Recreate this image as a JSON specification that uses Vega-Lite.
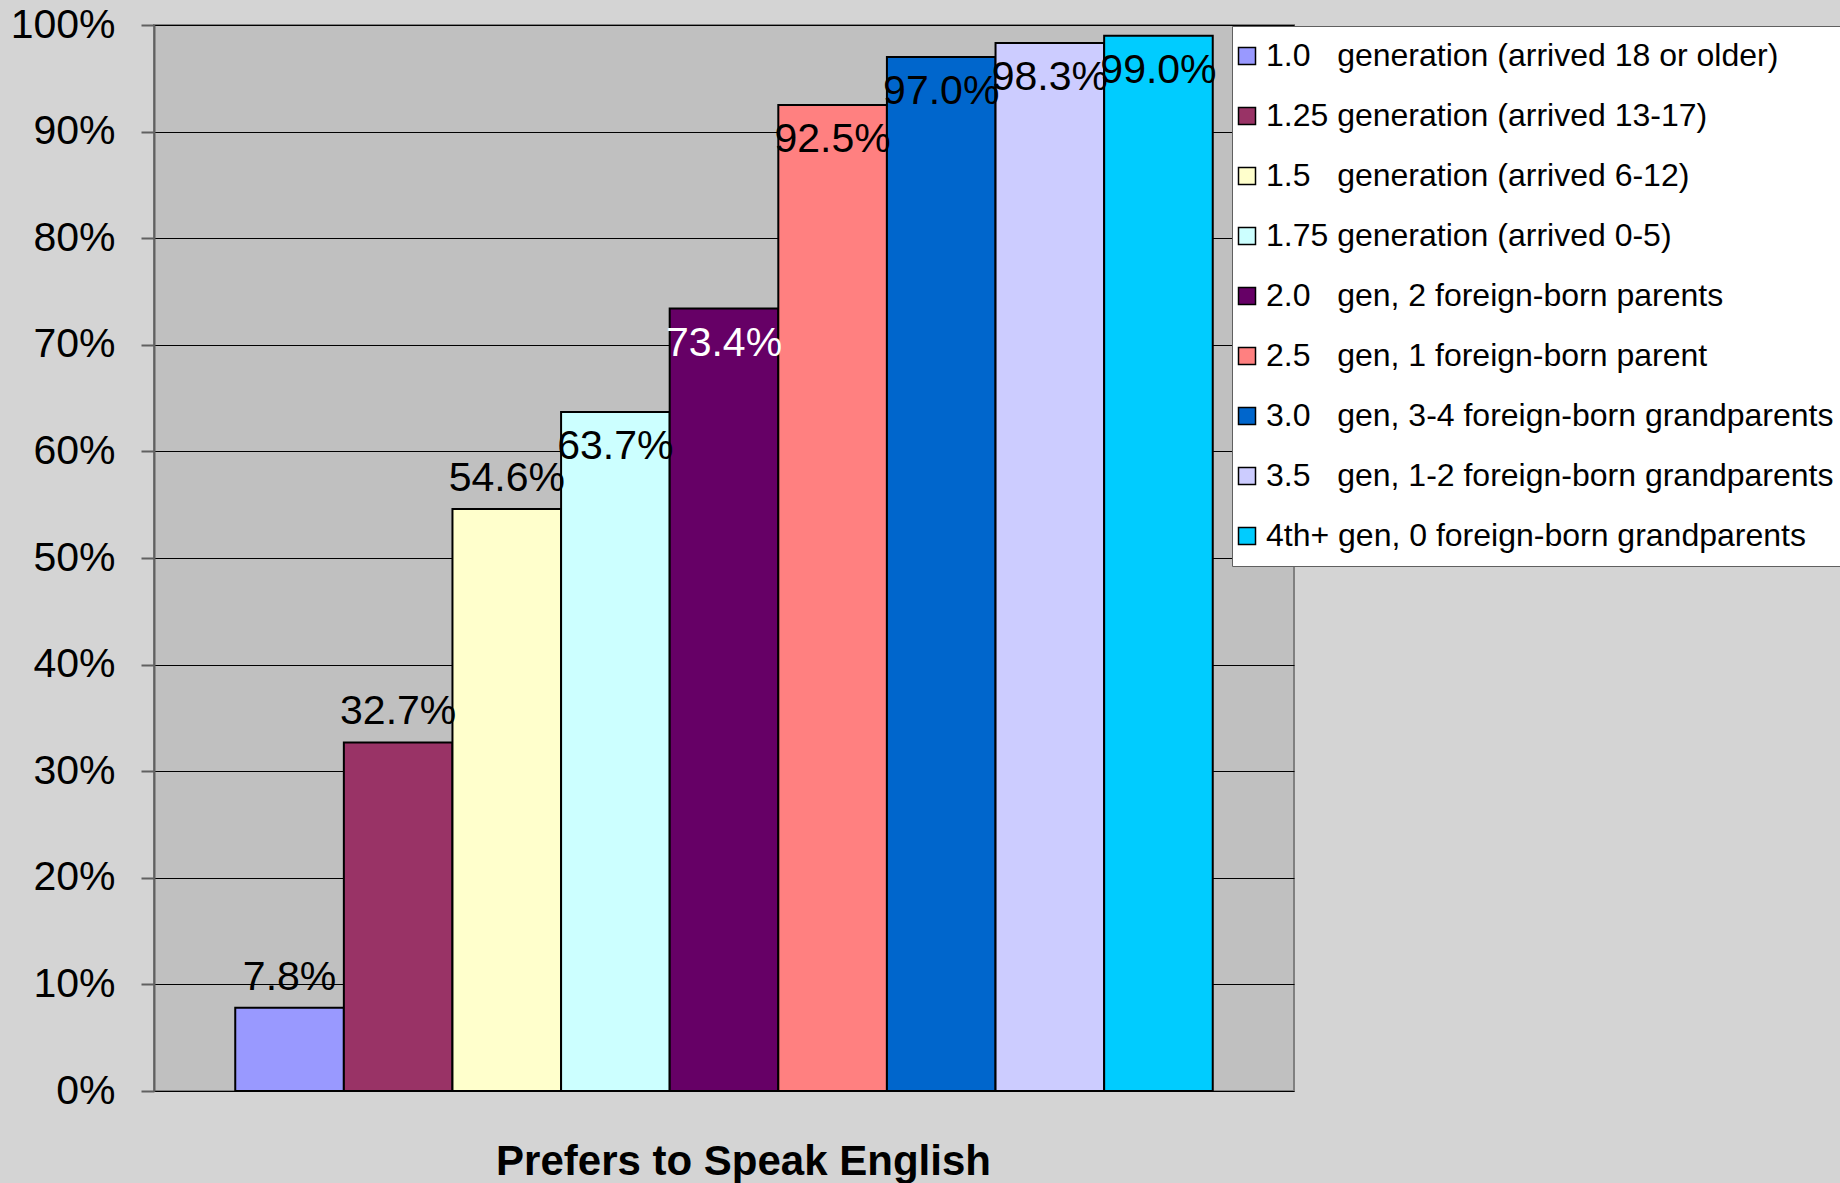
{
  "$schema": "https://vega.github.io/schema/vega-lite/v6.json",
  "autosize": "none",
  "width": 1140,
  "height": 1066,
  "padding": {"left": 154, "top": 25, "right": 546, "bottom": 92},
  "background": "#d4d4d4",
  "config": {
    "view": {"fill": "#C0C0C0", "stroke": "#808080", "strokeWidth": 2},
    "font": "Liberation Sans"
  },
  "data": {
    "values": [
      {"generation": "1.0\u00a0\u00a0\u00a0generation (arrived 18 or older)", "value": 0.078},
      {"generation": "1.25 generation (arrived 13-17)", "value": 0.327},
      {"generation": "1.5\u00a0\u00a0\u00a0generation (arrived 6-12)", "value": 0.546},
      {"generation": "1.75 generation (arrived 0-5)", "value": 0.637},
      {"generation": "2.0\u00a0\u00a0\u00a0gen, 2 foreign-born parents", "value": 0.734},
      {"generation": "2.5\u00a0\u00a0\u00a0gen, 1 foreign-born parent", "value": 0.925},
      {"generation": "3.0\u00a0\u00a0\u00a0gen, 3-4 foreign-born grandparents", "value": 0.970},
      {"generation": "3.5\u00a0\u00a0\u00a0gen, 1-2 foreign-born grandparents", "value": 0.983},
      {"generation": "4th+ gen, 0 foreign-born grandparents", "value": 0.990}
    ]
  },
  "encoding": {
    "x": {
      "field": "generation",
      "type": "nominal",
      "sort": null,
      "scale": {"paddingInner": 0, "paddingOuter": 0.748},
      "axis": {
        "labels": false,
        "ticks": false,
        "domain": false,
        "title": "Prefers to Speak English",
        "titleFont": "Liberation Sans",
        "titleFontSize": 42,
        "titleFontWeight": "bold",
        "titleColor": "#000000",
        "titleX": 589,
        "titleY": 50,
        "titleBaseline": "top",
        "titleAnchor": "middle",
        "titleAlign": "center"
      }
    },
    "y": {
      "field": "value",
      "type": "quantitative",
      "scale": {"domain": [0, 1], "nice": false},
      "axis": {
        "values": [0, 0.1, 0.2, 0.3, 0.4, 0.5, 0.6, 0.7, 0.8, 0.9, 1.0],
        "format": ".0%",
        "title": null,
        "labelFont": "Liberation Sans",
        "labelFontSize": 41,
        "labelColor": "#000000",
        "labelPadding": 26,
        "tickSize": 13,
        "tickColor": "#606060",
        "tickWidth": 2,
        "domainColor": "#606060",
        "domainWidth": 2,
        "grid": true,
        "gridColor": "#000000",
        "gridWidth": 1.2,
        "gridOpacity": 1
      }
    }
  },
  "layer": [
    {
      "mark": {"type": "bar", "stroke": "#000000", "strokeWidth": 2, "opacity": 1},
      "encoding": {
        "color": {
          "field": "generation",
          "type": "nominal",
          "sort": null,
          "scale": {
            "range": ["#9999FF", "#993366", "#FFFFCC", "#CCFFFF", "#660066", "#FF8080", "#0066CC", "#CCCCFF", "#00CCFF"]
          },
          "legend": {
            "title": null,
            "orient": "none",
            "legendX": 1078,
            "legendY": 1,
            "fillColor": "#FFFFFF",
            "strokeColor": "#606060",
            "padding": 14,
            "labelFont": "Liberation Sans",
            "labelFontSize": 32,
            "labelColor": "#000000",
            "labelLimit": 0,
            "labelOffset": 3,
            "symbolOffset": -15,
            "rowPadding": 28,
            "symbolType": "square",
            "symbolSize": 289,
            "symbolStrokeColor": "#000000",
            "symbolStrokeWidth": 1.5,
            "symbolOpacity": 1
          }
        }
      }
    },
    {
      "transform": [{"filter": "datum.value < 0.6"}],
      "mark": {"type": "text", "baseline": "middle", "align": "center", "dy": -30, "fontSize": 41, "font": "Liberation Sans"},
      "encoding": {
        "text": {"field": "value", "type": "quantitative", "format": ".1%"},
        "color": {"value": "#000000"}
      }
    },
    {
      "transform": [{"filter": "datum.value >= 0.6"}],
      "mark": {"type": "text", "baseline": "middle", "align": "center", "dy": 35, "fontSize": 41, "font": "Liberation Sans"},
      "encoding": {
        "text": {"field": "value", "type": "quantitative", "format": ".1%"},
        "color": {
          "condition": {"test": "datum.value > 0.7 && datum.value < 0.8", "value": "#FFFFFF"},
          "value": "#000000"
        }
      }
    }
  ]
}
